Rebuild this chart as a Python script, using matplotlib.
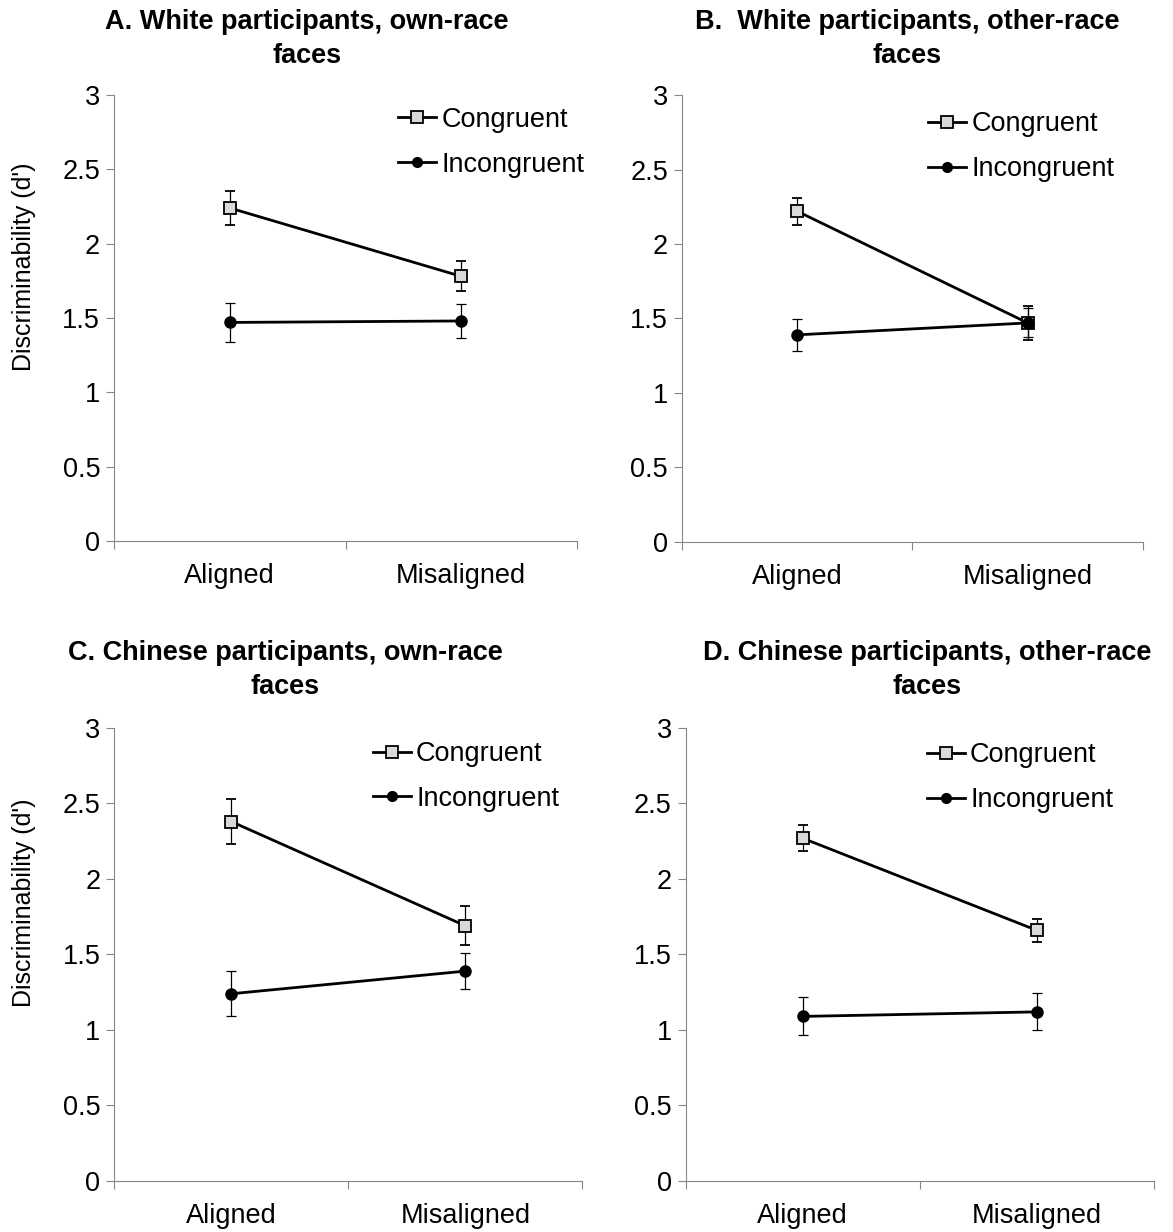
import matplotlib
matplotlib.use("Agg")
import matplotlib.pyplot as plt
from matplotlib.lines import Line2D

plt.rcParams['font.family'] = ['Liberation Sans', 'DejaVu Sans']

# data (d' means, error bars = +/- SE)
conditions = ["Aligned", "Misaligned"]
titles = [
    "A. White participants, own-race\nfaces",
    "B.  White participants, other-race\nfaces",
    "C. Chinese participants, own-race\nfaces",
    "D. Chinese participants, other-race\nfaces",
]
congruent_mean = [[2.24, 1.78], [2.22, 1.47], [2.38, 1.69], [2.27, 1.66]]
congruent_se = [[0.115, 0.10], [0.09, 0.115], [0.147, 0.128], [0.085, 0.076]]
incongruent_mean = [[1.47, 1.48], [1.39, 1.47], [1.24, 1.39], [1.09, 1.12]]
incongruent_se = [[0.133, 0.116], [0.108, 0.097], [0.148, 0.12], [0.126, 0.122]]
yticks = [0, 0.5, 1, 1.5, 2, 2.5, 3]
ytick_labels = ["0", "0.5", "1", "1.5", "2", "2.5", "3"]

# layout (figure fractions) and per-panel placement of title / legend
axes_rects = [
    [0.0972, 0.5609, 0.3947, 0.3620],
    [0.5814, 0.5602, 0.3930, 0.3626],
    [0.0975, 0.0414, 0.3990, 0.3677],
    [0.5845, 0.0414, 0.3992, 0.3677],
]
title_x = [0.417, 0.488, 0.365, 0.515]
title_y = [1.125, 1.125, 1.128, 1.128]
legend_xy = [(0.613, 0.894), (0.534, 0.884), (0.552, 0.893), (0.515, 0.890)]

FS = 19.5
grey = "#868686"

fig = plt.figure(figsize=(11.73, 12.32), dpi=100)

for i in range(4):
    ax = fig.add_axes(axes_rects[i])
    x = [0, 1]
    ax.errorbar(x, congruent_mean[i], yerr=congruent_se[i], color="black", lw=2,
                marker="s", ms=8, mfc="#d9d9d9", mec="black", mew=1.3,
                ecolor="black", elinewidth=0.9, capsize=3.5, capthick=0.9,
                label="Congruent", zorder=3)
    ax.errorbar(x, incongruent_mean[i], yerr=incongruent_se[i], color="black", lw=2,
                marker="o", ms=8, mfc="black", mec="black",
                ecolor="black", elinewidth=0.9, capsize=3.5, capthick=0.9,
                label="Incongruent", zorder=4)

    ax.set_xlim(-0.5, 1.5)
    ax.set_ylim(0, 3)
    ax.set_yticks(yticks)
    ax.set_yticklabels(ytick_labels, fontsize=FS)
    ax.set_xticks(x)
    ax.set_xticklabels(conditions, fontsize=FS)
    ax.set_xticks([-0.5, 0.5, 1.5], minor=True)
    ax.tick_params(axis="x", which="major", length=0, pad=16)
    ax.tick_params(axis="x", which="minor", length=6, width=0.8, color=grey, direction="out")
    ax.tick_params(axis="y", length=6, width=0.8, color=grey, direction="out", pad=4)

    for s in ["top", "right"]:
        ax.spines[s].set_visible(False)
    for s in ["left", "bottom"]:
        ax.spines[s].set_color(grey)
        ax.spines[s].set_linewidth(0.8)

    ax.text(title_x[i], title_y[i], titles[i], transform=ax.transAxes,
            ha="center", va="center", multialignment="center",
            fontsize=FS, fontweight="bold", linespacing=1.4)

    handles = [
        Line2D([], [], color="black", lw=2, marker="s", ms=8, mfc="#d9d9d9", mec="black", mew=1.3),
        Line2D([], [], color="black", lw=2, marker="o", ms=7, mfc="black", mec="black"),
    ]
    ax.legend(handles, ["Congruent", "Incongruent"], loc="center left",
              bbox_to_anchor=legend_xy[i], frameon=False, fontsize=FS,
              handlelength=1.4, handletextpad=0.2, labelspacing=0.7,
              borderpad=0, borderaxespad=0)

    if i % 2 == 0:
        ax.set_ylabel("Discriminability (d')", fontsize=18)
        ax.yaxis.set_label_coords(-0.168, 0.615)

fig.savefig("out.png", dpi=100)
